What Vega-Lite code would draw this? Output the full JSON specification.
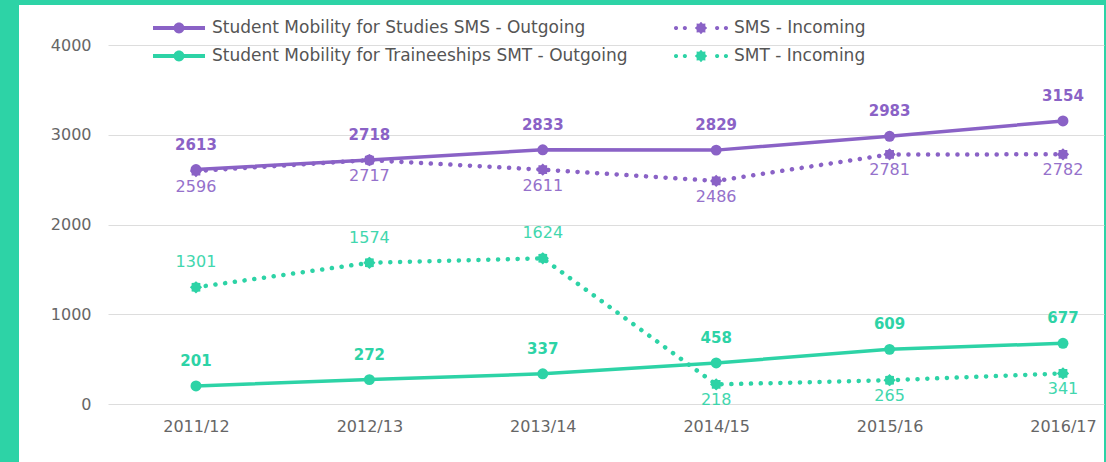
{
  "$schema": "https://vega.github.io/schema/vega-lite/v6.json",
  "width": 1085,
  "height": 457,
  "autosize": {"type": "none"},
  "padding": {"left": 19, "top": 5, "right": 2, "bottom": 0},
  "background": "#2dd3a6",
  "config": {
    "view": {"fill": "white", "stroke": null},
    "font": "DejaVu Sans"
  },
  "data": {
    "values": [
      {"year": "2011/12", "series": "Student Mobility for Studies SMS - Outgoing", "value": 2613},
      {"year": "2012/13", "series": "Student Mobility for Studies SMS - Outgoing", "value": 2718},
      {"year": "2013/14", "series": "Student Mobility for Studies SMS - Outgoing", "value": 2833},
      {"year": "2014/15", "series": "Student Mobility for Studies SMS - Outgoing", "value": 2829},
      {"year": "2015/16", "series": "Student Mobility for Studies SMS - Outgoing", "value": 2983},
      {"year": "2016/17", "series": "Student Mobility for Studies SMS - Outgoing", "value": 3154},
      {"year": "2011/12", "series": "SMS - Incoming", "value": 2596},
      {"year": "2012/13", "series": "SMS - Incoming", "value": 2717},
      {"year": "2013/14", "series": "SMS - Incoming", "value": 2611},
      {"year": "2014/15", "series": "SMS - Incoming", "value": 2486},
      {"year": "2015/16", "series": "SMS - Incoming", "value": 2781},
      {"year": "2016/17", "series": "SMS - Incoming", "value": 2782},
      {"year": "2011/12", "series": "Student Mobility for Traineeships SMT - Outgoing", "value": 201},
      {"year": "2012/13", "series": "Student Mobility for Traineeships SMT - Outgoing", "value": 272},
      {"year": "2013/14", "series": "Student Mobility for Traineeships SMT - Outgoing", "value": 337},
      {"year": "2014/15", "series": "Student Mobility for Traineeships SMT - Outgoing", "value": 458},
      {"year": "2015/16", "series": "Student Mobility for Traineeships SMT - Outgoing", "value": 609},
      {"year": "2016/17", "series": "Student Mobility for Traineeships SMT - Outgoing", "value": 677},
      {"year": "2011/12", "series": "SMT - Incoming", "value": 1301},
      {"year": "2012/13", "series": "SMT - Incoming", "value": 1574},
      {"year": "2013/14", "series": "SMT - Incoming", "value": 1624},
      {"year": "2014/15", "series": "SMT - Incoming", "value": 218},
      {"year": "2015/16", "series": "SMT - Incoming", "value": 265},
      {"year": "2016/17", "series": "SMT - Incoming", "value": 341}
    ]
  },
  "encoding": {
    "x": {
      "field": "year", "type": "ordinal", "sort": null,
      "scale": {"type": "point", "range": [89, 1085], "padding": 0.372, "align": 0.682},
      "axis": {"title": null, "orient": "bottom", "offset": -44, "domain": false, "ticks": false, "tickSize": 0, "grid": false, "labelAngle": 0, "labelBaseline": "top", "labelPadding": 0, "labelFont": "DejaVu Sans", "labelFontSize": 16, "labelColor": "#666666"}
    },
    "y": {
      "field": "value", "type": "quantitative",
      "scale": {"domain": [-646, 4446], "nice": false, "zero": false},
      "axis": {"title": null, "values": [0, 1000, 2000, 3000, 4000], "format": "d", "offset": -72, "domain": false, "ticks": false, "tickSize": 0, "labelPadding": 0, "grid": true, "gridColor": "#dddddd", "gridWidth": 1, "labelFont": "DejaVu Sans", "labelFontSize": 16, "labelColor": "#666666"}
    },
    "color": {
      "field": "series", "type": "nominal",
      "scale": {
        "domain": ["Student Mobility for Studies SMS - Outgoing", "SMS - Incoming", "Student Mobility for Traineeships SMT - Outgoing", "SMT - Incoming"],
        "range": ["#8a62c6", "#8a62c6", "#2dd3a6", "#2dd3a6"]
      },
      "legend": {
        "title": null, "orient": "none", "direction": "horizontal", "legendX": 146, "legendY": 9, "columns": 2, "columnPadding": 45, "rowPadding": 6, "padding": 0,
        "symbolSize": 784, "labelFont": "DejaVu Sans", "labelFontSize": 17, "labelColor": "#555555", "labelOffset": 19, "labelLimit": 700,
        "encode": {
          "symbols": {
            "update": {
              "shape": {"signal": "indexof(datum.value,'Incoming')>=0 ? 'M-1.634,0A0.149,0.149 0 1,1 -1.932,0A0.149,0.149 0 1,1 -1.634,0Z M-1.002,0A0.149,0.149 0 1,1 -1.3,0A0.149,0.149 0 1,1 -1.002,0Z M1.3,0A0.149,0.149 0 1,1 1.002,0A0.149,0.149 0 1,1 1.3,0Z M1.932,0A0.149,0.149 0 1,1 1.634,0A0.149,0.149 0 1,1 1.932,0Z M0.446,0L0.308,0.128L0.316,0.316L0.128,0.308L0,0.446L-0.128,0.308L-0.316,0.316L-0.308,0.128L-0.446,0L-0.308,-0.128L-0.316,-0.316L-0.128,-0.308L0,-0.446L0.128,-0.308L0.316,-0.316L0.308,-0.128Z' : 'M-1.857,-0.139L1.857,-0.139L1.857,0.139L-1.857,0.139Z M0.39,0A0.39,0.39 0 1,1 -0.39,0A0.39,0.39 0 1,1 0.39,0Z'"},
              "fill": {"scale": "color", "field": "value"},
              "stroke": {"value": "transparent"},
              "strokeWidth": {"value": 0},
              "opacity": {"value": 1}
            }
          }
        }
      }
    }
  },
  "layer": [
    {
      "transform": [{"filter": "indexof(datum.series,'Outgoing')>=0"}],
      "mark": {"type": "line", "strokeWidth": 3.5}
    },
    {
      "transform": [{"filter": "indexof(datum.series,'Incoming')>=0"}],
      "mark": {"type": "line", "strokeWidth": 4.5, "strokeDash": [0.1, 9.7], "strokeCap": "round"}
    },
    {
      "transform": [{"filter": "indexof(datum.series,'Outgoing')>=0"}],
      "mark": {"type": "point", "filled": true, "shape": "circle", "size": 120, "opacity": 1}
    },
    {
      "transform": [{"filter": "indexof(datum.series,'Incoming')>=0"}],
      "mark": {"type": "point", "filled": true, "size": 150, "opacity": 1, "shape": "M1,0L0.72,0.3L0.71,0.71L0.3,0.72L0,1L-0.3,0.72L-0.71,0.71L-0.72,0.3L-1,0L-0.72,-0.3L-0.71,-0.71L-0.3,-0.72L0,-1L0.3,-0.72L0.71,-0.71L0.72,-0.3Z"}
    },
    {
      "transform": [{"filter": "indexof(datum.series,'Outgoing')>=0"}],
      "mark": {"type": "text", "fontWeight": "bold", "fontSize": 15, "dy": -25, "baseline": "middle", "align": "center"},
      "encoding": {"text": {"field": "value", "type": "quantitative"}}
    },
    {
      "transform": [{"filter": "indexof(datum.series,'Incoming')>=0 && (datum.value < 1000 || datum.value > 2000)"}],
      "mark": {"type": "text", "fontSize": 16, "dy": 16, "baseline": "middle", "align": "center", "opacity": 0.9},
      "encoding": {"text": {"field": "value", "type": "quantitative"}}
    },
    {
      "transform": [{"filter": "indexof(datum.series,'Incoming')>=0 && datum.value >= 1000 && datum.value <= 2000"}],
      "mark": {"type": "text", "fontSize": 16, "dy": -25, "baseline": "middle", "align": "center", "opacity": 0.9},
      "encoding": {"text": {"field": "value", "type": "quantitative"}}
    }
  ]
}
